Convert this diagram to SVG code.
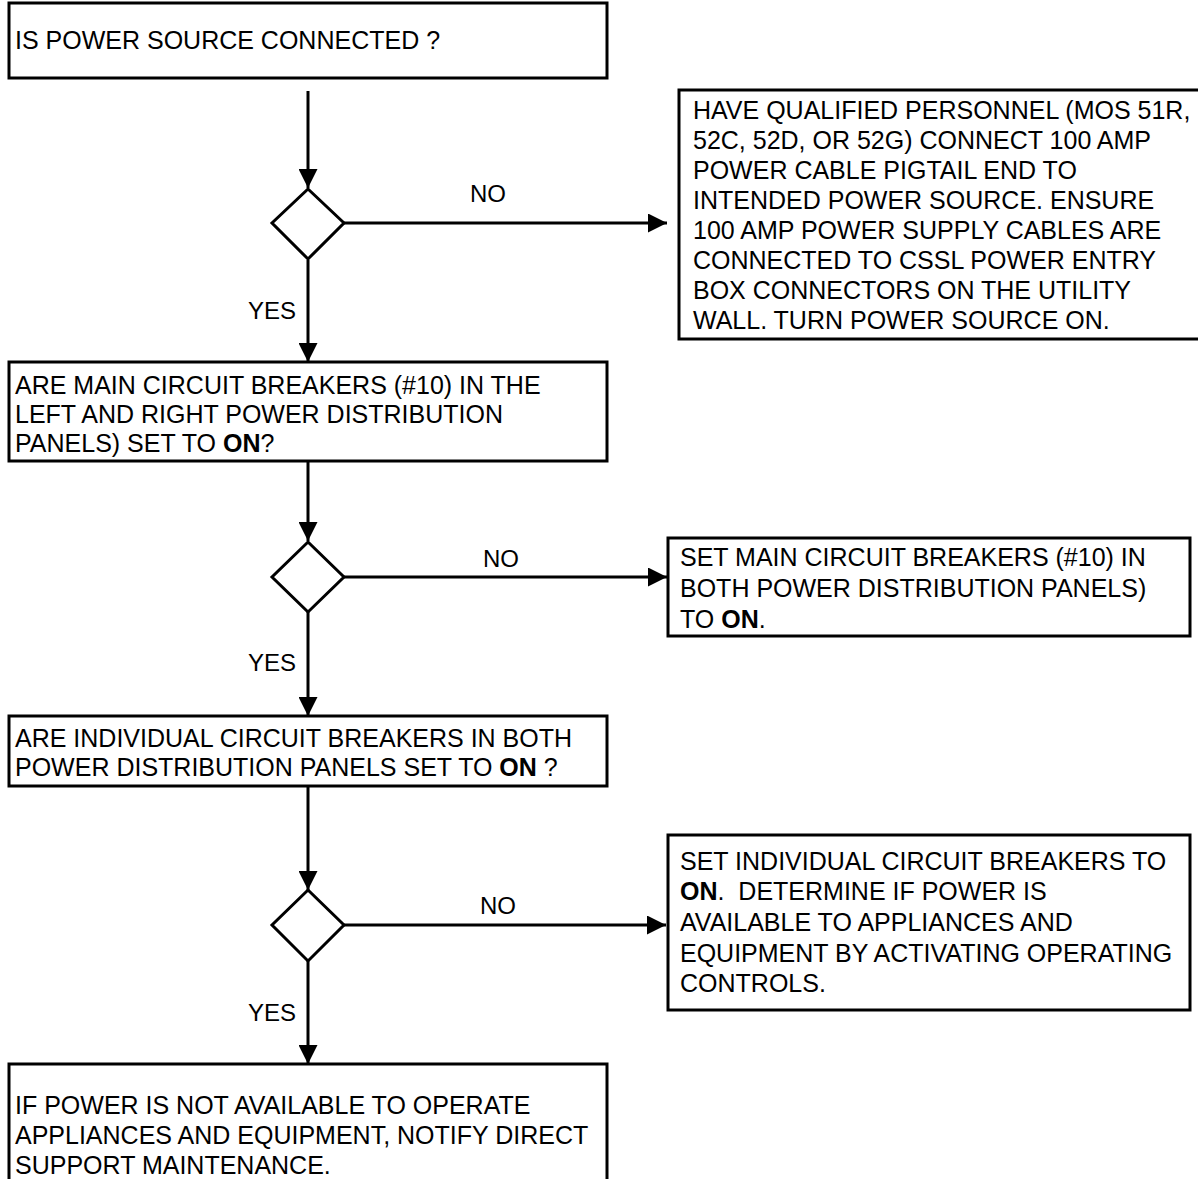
<svg xmlns="http://www.w3.org/2000/svg" width="1198" height="1179" viewBox="0 0 1198 1179">
<defs>
<marker id="ah" markerWidth="19" markerHeight="19" refX="19" refY="9.5" orient="auto" markerUnits="userSpaceOnUse">
<path d="M0,0 L19,9.5 L0,19 Z" fill="#000"/>
</marker>
<style>
.box{fill:#fff;stroke:#000;stroke-width:3}
.dia{fill:#fff;stroke:#000;stroke-width:3}
.con{stroke:#000;stroke-width:3;fill:none;marker-end:url(#ah)}
text{font-family:"Liberation Sans",Arial,sans-serif;font-size:25px;fill:#000}
.lbl{font-size:24px}
.b{font-weight:bold}
</style>
</defs>
<rect width="1198" height="1179" fill="#fff"/>
<g id="connectors">
<line class="con" x1="308" y1="91" x2="308" y2="188"/>
<line class="con" x1="343" y1="223" x2="667" y2="223"/>
<line class="con" x1="308" y1="260" x2="308" y2="362"/>
<line class="con" x1="308" y1="461" x2="308" y2="541"/>
<line class="con" x1="343" y1="577" x2="667" y2="577"/>
<line class="con" x1="308" y1="612" x2="308" y2="716"/>
<line class="con" x1="308" y1="786" x2="308" y2="890"/>
<line class="con" x1="343" y1="925" x2="666" y2="925"/>
<line class="con" x1="308" y1="961" x2="308" y2="1064"/>
<text class="lbl" x="488" y="202" text-anchor="middle">NO</text>
<text class="lbl" x="296" y="319" text-anchor="end">YES</text>
<text class="lbl" x="501" y="567" text-anchor="middle">NO</text>
<text class="lbl" x="296" y="671" text-anchor="end">YES</text>
<text class="lbl" x="498" y="914" text-anchor="middle">NO</text>
<text class="lbl" x="296" y="1021" text-anchor="end">YES</text>
</g>
<g id="n1">
<rect class="box" x="9" y="3" width="598" height="75"/>
<text x="15" y="49">IS POWER SOURCE CONNECTED ?</text>
</g>
<g id="d1"><polygon class="dia" points="308,189 344,223 308,259 272,223"/></g>
<g id="n2">
<rect class="box" x="679" y="90" width="530" height="249"/>
<text x="693" y="119">HAVE QUALIFIED PERSONNEL (MOS 51R,</text>
<text x="693" y="149">52C, 52D, OR 52G) CONNECT 100 AMP</text>
<text x="693" y="179">POWER CABLE PIGTAIL END TO</text>
<text x="693" y="209">INTENDED POWER SOURCE. ENSURE</text>
<text x="693" y="239">100 AMP POWER SUPPLY CABLES ARE</text>
<text x="693" y="269">CONNECTED TO CSSL POWER ENTRY</text>
<text x="693" y="299">BOX CONNECTORS ON THE UTILITY</text>
<text x="693" y="329">WALL. TURN POWER SOURCE ON.</text>
</g>
<g id="n3">
<rect class="box" x="9" y="362" width="598" height="99"/>
<text x="15" y="394">ARE MAIN CIRCUIT BREAKERS (#10) IN THE</text>
<text x="15" y="423">LEFT AND RIGHT POWER DISTRIBUTION</text>
<text x="15" y="452">PANELS) SET TO <tspan class="b">ON</tspan>?</text>
</g>
<g id="d2"><polygon class="dia" points="308,542 344,577 308,612 272,577"/></g>
<g id="n4">
<rect class="box" x="668" y="538" width="522" height="98"/>
<text x="680" y="566">SET MAIN CIRCUIT BREAKERS (#10) IN</text>
<text x="680" y="597">BOTH POWER DISTRIBUTION PANELS)</text>
<text x="680" y="628">TO <tspan class="b">ON</tspan>.</text>
</g>
<g id="n5">
<rect class="box" x="9" y="716" width="598" height="70"/>
<text x="15" y="747">ARE INDIVIDUAL CIRCUIT BREAKERS IN BOTH</text>
<text x="15" y="776">POWER DISTRIBUTION PANELS SET TO <tspan class="b">ON</tspan> ?</text>
</g>
<g id="d3"><polygon class="dia" points="308,890 344,925 308,961 272,925"/></g>
<g id="n6">
<rect class="box" x="668" y="835" width="522" height="175"/>
<text x="680" y="870">SET INDIVIDUAL CIRCUIT BREAKERS TO</text>
<text x="680" y="900"><tspan class="b">ON</tspan>.&#160; DETERMINE IF POWER IS</text>
<text x="680" y="931">AVAILABLE TO APPLIANCES AND</text>
<text x="680" y="962">EQUIPMENT BY ACTIVATING OPERATING</text>
<text x="680" y="992">CONTROLS.</text>
</g>
<g id="n7">
<rect class="box" x="9" y="1064" width="598" height="130"/>
<text x="15" y="1114">IF POWER IS NOT AVAILABLE TO OPERATE</text>
<text x="15" y="1144">APPLIANCES AND EQUIPMENT, NOTIFY DIRECT</text>
<text x="15" y="1174">SUPPORT MAINTENANCE.</text>
</g>
</svg>
